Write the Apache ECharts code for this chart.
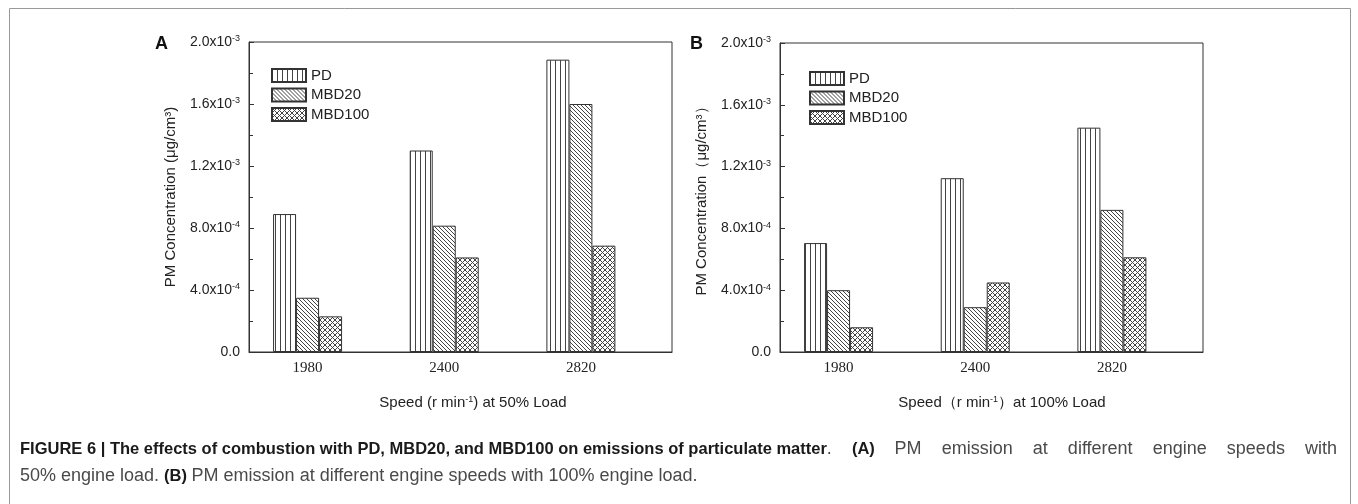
<!DOCTYPE html>
<html><head><meta charset="utf-8">
<script src="https://cdn.jsdelivr.net/npm/echarts@6/dist/echarts.min.js"></script>
<style>html,body{margin:0;padding:0;background:#fff}#c{width:1358px;height:504px}</style>
</head><body><div id="c"></div>
<script>
// ---- data ----
const speeds = [1980, 2400, 2820];
const seriesNames = ['PD', 'MBD20', 'MBD100'];
// (A) 50% load
const loadA_PD = [8.9e-4, 1.30e-3, 1.886e-3];
const loadA_MBD20 = [3.5e-4, 8.15e-4, 1.60e-3];
const loadA_MBD100 = [2.3e-4, 6.1e-4, 6.86e-4];
// (B) 100% load
const loadB_PD = [7.05e-4, 1.125e-3, 1.452e-3];
const loadB_MBD20 = [4.0e-4, 2.9e-4, 9.2e-4];
const loadB_MBD100 = [1.6e-4, 4.5e-4, 6.13e-4];
const yMin = 0, yMax = 2.0e-3, yStep = 4e-4;

const captionLine1 = [
  ['b', 'FIGURE 6 | The effects of combustion with PD, MBD20, and MBD100 on emissions of particulate matter'],
  ['n', '. '], ['b', '(A)'], ['n', ' PM emission at different engine speeds with']
];
const captionLine2 = [
  ['n', '50% engine load. '], ['b', '(B)'], ['n', ' PM emission at different engine speeds with 100% engine load.']
];

const FONT = '"Liberation Sans", Arial, sans-serif';
const SERIF = '"Liberation Serif", "Times New Roman", serif';

function makePattern(kind) {
  const n = kind === 'v' ? 5 : (kind === 'd' ? 4 : 5);
  const c = document.createElement('canvas');
  c.width = n; c.height = n;
  const g = c.getContext('2d');
  g.fillStyle = '#fff'; g.fillRect(0, 0, n, n);
  g.fillStyle = '#444';
  if (kind === 'v') { g.fillRect(0, 0, 1, n); }
  else {
    for (let i = 0; i < n; i++) {
      g.fillRect(i, i, 1, 1);
      if (kind === 'x') g.fillRect(n - 1 - i, i, 1, 1);
    }
  }
  return { image: c, repeat: 'repeat' };
}
const patterns = { PD: makePattern('v'), MBD20: makePattern('d'), MBD100: makePattern('x') };

function barSeries(name, vals, idx) {
  return {
    type: 'bar', name: name, xAxisIndex: idx, yAxisIndex: idx,
    data: speeds.map((s, i) => [s, vals[i]]),
    barWidth: 23, barGap: '0%',
    itemStyle: { color: patterns[name], borderColor: '#333', borderWidth: 1 },
    emphasis: { disabled: true }
  };
}

function yFmt(v) {
  if (Math.abs(v) < 1e-12) return '{m|0.0}';
  const e = Math.floor(Math.log10(v) + 1e-9);
  const m = (v / Math.pow(10, e)).toFixed(1);
  return '{m|' + m + 'x10}{s|' + e + '}';
}
const yRich = {
  m: { fontSize: 14, fontFamily: FONT, color: '#222' },
  s: { fontSize: 9, fontFamily: FONT, color: '#222', verticalAlign: 'top', padding: [0, 0, 6, 0] }
};

function makeY(idx, name) {
  return {
    type: 'value', gridIndex: idx, min: yMin, max: yMax, interval: yStep,
    axisLine: { show: true, lineStyle: { color: '#333', width: 1 } },
    axisTick: { show: true, inside: true, length: 5, lineStyle: { color: '#333' } },
    minorTick: { show: true, splitNumber: 2, length: 4, lineStyle: { color: '#333' } },
    splitLine: { show: false },
    axisLabel: { formatter: yFmt, rich: yRich, margin: 9 },
    name: name, nameLocation: 'middle', nameGap: 71, nameRotate: 90,
    nameTextStyle: { fontSize: 15, fontFamily: FONT, color: '#222' }
  };
}
function makeX(idx, name, padLeft) {
  return {
    type: 'value', gridIndex: idx, min: 1800, max: 3100,
    axisLine: { show: true, lineStyle: { color: '#333', width: 1 } },
    axisTick: { show: false },
    splitLine: { show: false },
    axisLabel: { customValues: speeds, formatter: v => String(v), fontSize: 15, fontFamily: SERIF, color: '#222', margin: 9 },
    name: name, nameLocation: 'middle', nameGap: 43,
    nameTextStyle: {
      padding: [0, 0, 0, padLeft],
      rich: {
        a: { fontSize: 15, fontFamily: FONT, color: '#222' },
        s: { fontSize: 9, fontFamily: FONT, color: '#222', verticalAlign: 'top', padding: [0, 0, 6, 0] }
      }
    }
  };
}
function makeLegend(left, top) {
  return {
    left: left, top: top, orient: 'vertical', itemWidth: 34, itemHeight: 13, itemGap: 4.5,
    icon: 'rect', selectedMode: false, data: seriesNames,
    textStyle: { fontSize: 15, fontFamily: FONT, color: '#222' }
  };
}

// caption layout: words placed with natural spacing; on the justified first line
// the leftover width is spread over the gaps from word index `spreadFrom` on
const capFonts = { b: 'bold 16.5px ' + FONT, n: '18px ' + FONT };
const capFill = { b: '#1a1a1a', n: '#4a4a4a' };
function layoutLine(segs, x0, x1, y, spreadFrom) {
  const words = []; let cur = [];
  segs.forEach(([st, tx]) => {
    tx.split(' ').forEach((p, i) => {
      if (i > 0) { if (cur.length) words.push(cur); cur = []; }
      if (p) cur.push([st, p]);
    });
  });
  if (cur.length) words.push(cur);
  const ctx = document.createElement('canvas').getContext('2d');
  const mw = (st, tx) => { ctx.font = capFonts[st]; return ctx.measureText(tx).width; };
  const ws = words.map(w => w.reduce((a, s) => a + mw(s[0], s[1]), 0));
  const gapOf = i => mw(words[i][words[i].length - 1][0], ' ');
  let natural = 0;
  ws.forEach((w, i) => { natural += w + (i < ws.length - 1 ? gapOf(i) : 0); });
  let extra = 0;
  if (spreadFrom != null) {
    const nSpread = words.length - 1 - spreadFrom;
    extra = Math.max(0, (x1 - x0 - natural) / nSpread);
  }
  const els = []; let x = x0;
  words.forEach((w, i) => {
    let xx = x;
    w.forEach(([st, tx]) => {
      els.push({ type: 'text', silent: true, x: xx, y: y,
        style: { text: tx, font: capFonts[st], fill: capFill[st], verticalAlign: 'middle', align: 'left' } });
      xx += mw(st, tx);
    });
    x += ws[i] + (i < ws.length - 1 ? gapOf(i) : 0) + (spreadFrom != null && i >= spreadFrom ? extra : 0);
  });
  return els;
}

const chart = echarts.init(document.getElementById('c'), null, { renderer: 'canvas' });
chart.setOption({
  animation: false,
  backgroundColor: '#fff',
  grid: [
    { left: 249, top: 42, width: 423, height: 310, show: true, borderColor: '#333', borderWidth: 1, backgroundColor: 'transparent' },
    { left: 780, top: 43, width: 423, height: 309, show: true, borderColor: '#333', borderWidth: 1, backgroundColor: 'transparent' }
  ],
  xAxis: [
    makeX(0, '{a|Speed (r min}{s|-1}{a|) at 50% Load}', 25),
    makeX(1, '{a|Speed（r min}{s|-1}{a|）at 100% Load}', 21)
  ],
  yAxis: [
    makeY(0, 'PM Concentration (μg/cm³)'),
    makeY(1, 'PM Concentration（μg/cm³）')
  ],
  legend: [makeLegend(266, 63), makeLegend(804, 66)],
  series: [
    barSeries('PD', loadA_PD, 0),
    barSeries('MBD20', loadA_MBD20, 0),
    barSeries('MBD100', loadA_MBD100, 0),
    barSeries('PD', loadB_PD, 1),
    barSeries('MBD20', loadB_MBD20, 1),
    barSeries('MBD100', loadB_MBD100, 1)
  ],
  graphic: [
    { type: 'rect', silent: true, shape: { x: 9.5, y: 8.5, width: 1341, height: 520 },
      style: { fill: 'none', stroke: '#999', lineWidth: 1 } },
    { type: 'text', left: 155, top: 35, style: { text: 'A', font: 'bold 18px ' + FONT, fill: '#111' } },
    { type: 'text', left: 690, top: 35, style: { text: 'B', font: 'bold 18px ' + FONT, fill: '#111' } }
  ].concat(layoutLine(captionLine1, 20, 1337, 449, 16))
   .concat(layoutLine(captionLine2, 20, 1337, 476, null))
});
</script></body></html>
